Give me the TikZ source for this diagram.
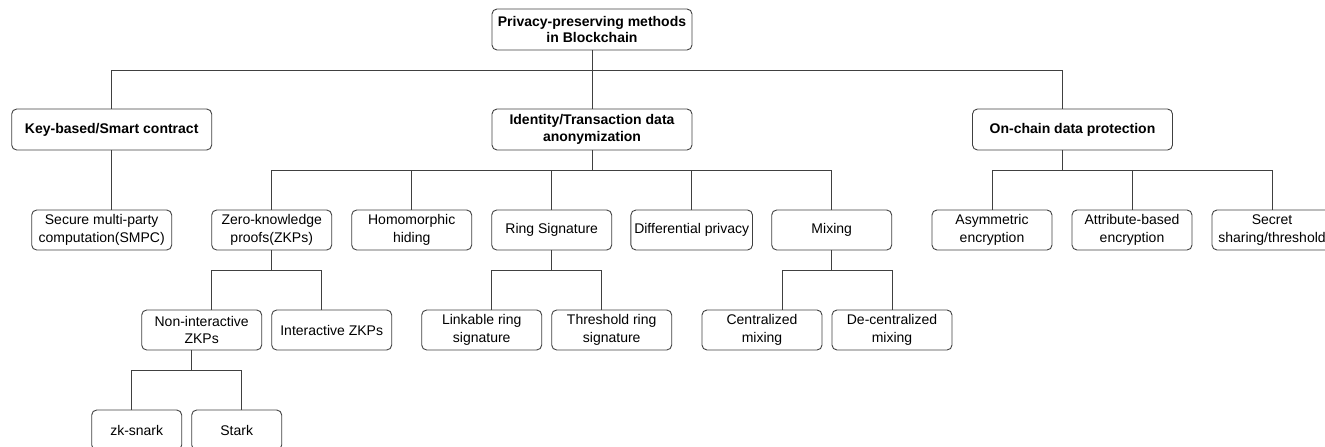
\documentclass[tikz,border=0pt]{standalone}
\usepackage{fontspec}
\setmainfont{Liberation Sans}

\begin{document}
\begin{tikzpicture} [x=1pt, y=-1pt, node distance=140pt, topic/.style={rectangle, draw=black!75, line width=0.9pt, rounded corners=5pt, align=center, minimum width=200pt, minimum height=41pt, font=\fontsize{14}{16.5}\selectfont\bfseries}, method/.style={rectangle, draw=black!75, line width=0.9pt, rounded corners=5pt, align=center, minimum width=120pt, minimum height=40pt, font=\fontsize{14}{17.5}\selectfont}, link/.style={draw=black!75, line width=0.9pt}]
  \useasboundingbox (0,0) rectangle (1325,447);
  % Root and main branches
  \node [topic] (root) at (592,29.5) {Privacy-preserving methods\\in Blockchain};
  \node [topic] (keybased) at (111.7,129.5) {Key-based/Smart contract};
  \node [topic] (identity) at (592,129.5) {Identity/Transaction data\\anonymization};
  \node [topic] (onchain) at (1072.5,129.5) {On-chain data protection};
  % Methods
  \node [method, minimum width=140pt] (smpc) at (101.7,230) {Secure multi-party\\computation(SMPC)};
  \node [method] (zkp) at (271.7,230) {Zero-knowledge\\proofs(ZKPs)};
  \node [method, right of=zkp] (homo) {Homomorphic\\hiding};
  \node [method, right of=homo] (ring) {Ring Signature};
  \node [method, right of=ring] (diffpriv) {Differential privacy};
  \node [method, right of=diffpriv] (mixing) {Mixing};
  \node [method] (asym) at (992,230) {Asymmetric\\encryption};
  \node [method, right of=asym] (attrib) {Attribute-based\\encryption};
  \node [method, right of=attrib] (secret) {Secret\\sharing/threshold};
  % Sub-methods
  \node [method] (nonint) at (201.7,330) {Non-interactive\\ZKPs};
  \node [method, right of=nonint, node distance=130pt] (interzkp) {Interactive ZKPs};
  \node [method] (linkable) at (481.7,330) {Linkable ring\\signature};
  \node [method, right of=linkable, node distance=130pt] (threshring) {Threshold ring\\signature};
  \node [method] (central) at (762,330) {Centralized\\mixing};
  \node [method, right of=central, node distance=130pt] (decentral) {De-centralized\\mixing};
  \node [method, minimum width=90pt] (zksnark) at (136.7,430) {zk-snark};
  \node [method, minimum width=90pt, right of=zksnark, node distance=100pt] (stark) {Stark};
  % Draw edges
  \draw [link] (root.south) -- ++(0,20) coordinate (rootbus);
  \draw [link] (rootbus) -| (keybased.north);
  \draw [link] (rootbus) -- (identity.north);
  \draw [link] (rootbus) -| ([xshift=-10pt]onchain.north);
  \draw [link] (keybased.south) -- (keybased.south |- smpc.north);
  \draw [link] (identity.south) -- ++(0,20) coordinate (idbus);
  \foreach \n in {zkp, homo, ring, diffpriv, mixing}
    \draw [link] (idbus) -| (\n.north);
  \draw [link] ([xshift=-10pt]onchain.south) -- ++(0,20) coordinate (ocbus);
  \foreach \n in {asym, attrib, secret}
    \draw [link] (ocbus) -| (\n.north);
  \draw [link] (zkp.south) -- ++(0,20) coordinate (zkpbus);
  \draw [link] (zkpbus) -| ([xshift=10pt]nonint.north);
  \draw [link] (zkpbus) -| ([xshift=-10pt]interzkp.north);
  \draw [link] (ring.south) -- ++(0,20) coordinate (ringbus);
  \draw [link] (ringbus) -| ([xshift=10pt]linkable.north);
  \draw [link] (ringbus) -| ([xshift=-10pt]threshring.north);
  \draw [link] (mixing.south) -- ++(0,20) coordinate (mixbus);
  \draw [link] (mixbus) -| ([xshift=20pt]central.north);
  \draw [link] (mixbus) -| (decentral.north);
  \draw [link] ([xshift=-10pt]nonint.south) -- ++(0,20) coordinate (nibus);
  \draw [link] (nibus) -| ([xshift=-5pt]zksnark.north);
  \draw [link] (nibus) -| ([xshift=5pt]stark.north);
\end{tikzpicture}
\end{document}
